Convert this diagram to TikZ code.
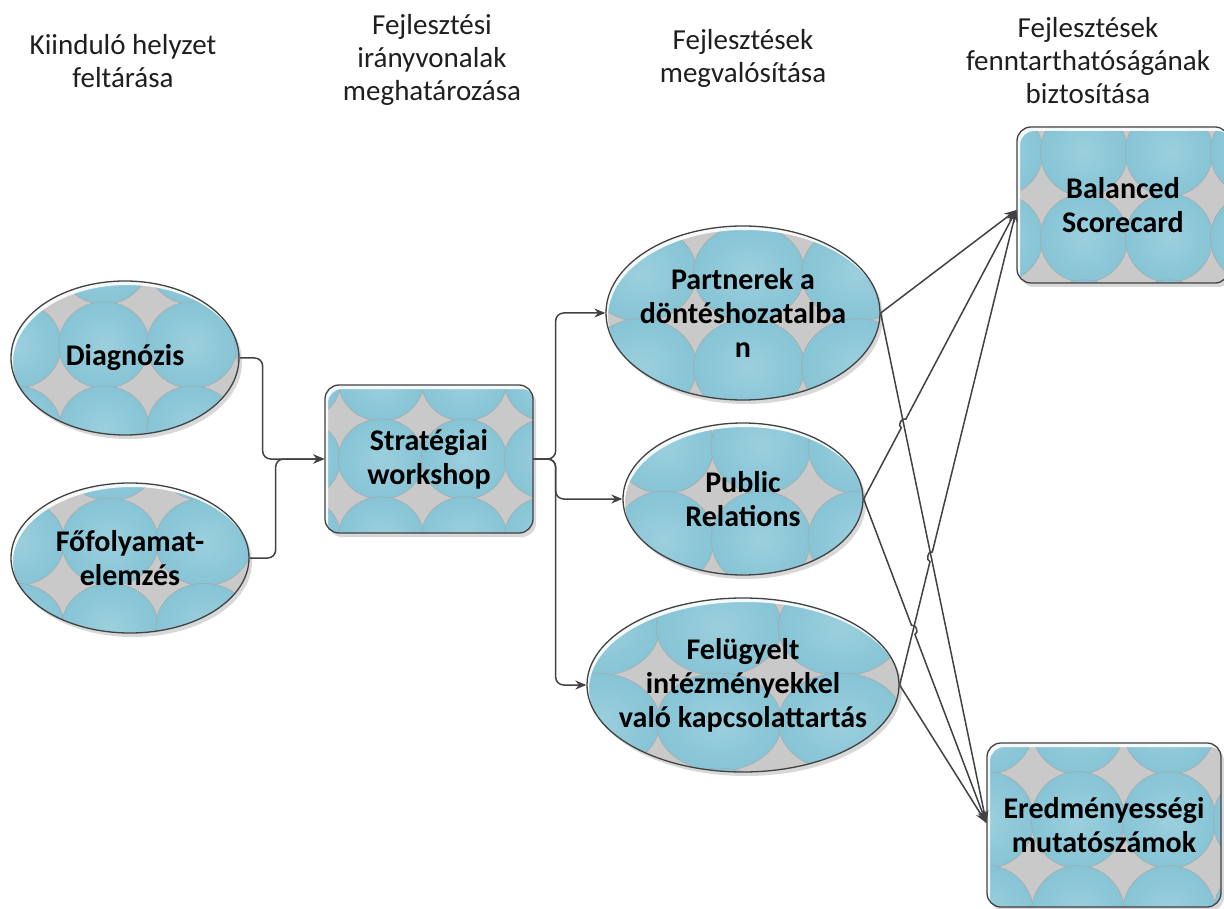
\documentclass[tikz,border=0pt]{standalone}
\usepackage{fontspec}
\setmainfont{Carlito}
\usetikzlibrary{shapes.geometric,shadows,arrows.meta,calc,intersections}
\definecolor{patblue}{RGB}{134,196,213}
\definecolor{patlight}{RGB}{156,207,221}
\definecolor{patgray}{RGB}{201,201,201}
\definecolor{patline}{RGB}{168,168,168}
\definecolor{edgec}{RGB}{66,66,66}
\newcommand\patfill[4]{%
 \fill[patgray] (path picture bounding box.south west) rectangle (path picture bounding box.north east);
 \foreach \i in {-3,...,3}{\foreach \j in {-3,...,3}{%
   \shadedraw[inner color=patlight,outer color=patblue,draw=patline,line width=0.5pt]
     ([shift={({\i*#3+(#1)},{\j*#4+(#2)})}]path picture bounding box.center)
     ellipse [x radius={0.515*#3*1pt}, y radius={0.515*#4*1pt}];
 }}}
\newcommand\glintE[2]{%
 \fill[white,opacity=0.9,even odd rule]
   ([shift={(-10,10)}]path picture bounding box.south west) rectangle ([shift={(10,-10)}]path picture bounding box.north east)
   ([shift={(2,4)}]path picture bounding box.center) ellipse [x radius={#1*1pt}, y radius={#2*1pt}];}
\newcommand\glintR{%
 \fill[white,opacity=0.9,even odd rule]
   ([shift={(-10,10)}]path picture bounding box.south west) rectangle ([shift={(10,-10)}]path picture bounding box.north east)
   [rounded corners=14pt] ([shift={(3,4)}]path picture bounding box.south west) rectangle ([shift={(3,4)}]path picture bounding box.north east);}
\begin{document}
\begin{tikzpicture}[x=1pt,y=-1pt,
 base/.style={draw=edgec, line width=1.3pt, align=center,
   font=\bfseries\fontsize{30}{34}\selectfont,
   drop shadow={shadow xshift=3pt, shadow yshift=-4pt, opacity=0.3}},
 ell/.style={base, ellipse, inner sep=-40pt},
 box/.style={base, rectangle, rounded corners=14pt, inner sep=0pt},
 hdr/.style={font=\fontsize{29}{33}\selectfont, align=center, text=black!88},
 conn/.style={draw=edgec, line width=1.5pt, rounded corners=8pt, -{Stealth[length=11pt,width=9pt]}},
 diag/.style={draw=edgec, line width=1.5pt, -{Stealth[length=12pt,width=9pt]}},
 hop/.style={bend left=90, looseness=1.2}
]
\useasboundingbox[fill=white] (0,0) rectangle (1224,909);

% headers
\node[hdr] (h1) at (123,61) {Kiinduló helyzet\\feltárása};
\node[hdr] (h2) at (432,60) {Fejlesztési\\irányvonalak\\meghatározása};
\node[hdr] (h3) at (743,58) {Fejlesztések\\megvalósítása};
\node[hdr] (h4) at (1088,61) {Fejlesztések\\fenntarthatóságának\\biztosítása};

% nodes
\node[ell, minimum width=228pt, minimum height=154pt, path picture={\patfill{-21}{-13}{88}{84}\glintE{114}{77}}] (dg) at (125,358) {Diagnózis};
\node[ell, minimum width=238pt, minimum height=150pt, path picture={\patfill{-20}{-16}{94}{85}\glintE{119}{75}}] (ff) at (130,558) {Főfolyamat-\\elemzés};
\node[box, minimum width=208pt, minimum height=148pt, path picture={\patfill{-48}{0}{83}{78}\glintR}] (ws) at (429,459) {Stratégiai\\workshop};
\node[ell, minimum width=274pt, minimum height=174pt, path picture={\patfill{6}{-40}{108}{94}\glintE{137}{87}}] (pd) at (743,313) {Partnerek a\\döntéshozatalba\\n};
\node[ell, minimum width=240pt, minimum height=152pt, path picture={\patfill{18}{-53}{97}{93}\glintE{120}{76}}] (pr) at (743,499) {Public\\Relations};
\node[ell, minimum width=312pt, minimum height=174pt, path picture={\patfill{-24}{-58}{122}{95}\glintE{156}{87}}] (fi) at (743,685) {Felügyelt\\intézményekkel\\való kapcsolattartás};
\node[box, minimum width=212pt, minimum height=156pt, path picture={\patfill{-39}{-53}{85}{86}\glintR}] (bs) at (1123,205) {Balanced\\Scorecard};
\node[box, minimum width=234pt, minimum height=164pt, path picture={\patfill{-26}{-5}{91}{94}\glintR}] (em) at (1104,825) {Eredményességi\\mutatószámok};

\coordinate (bsin) at ([yshift=-5pt]bs.west);
\coordinate (emin) at ([yshift=2pt]em.west);

% connectors
\draw[conn] (dg.east) -- ++(23,0) |- (ws.west);
\draw[conn] (ff.east) -- ++(26,0) |- (ws.west);
\draw[conn] (ws.east) -- ++(22,0) |- (pd.west);
\draw[conn] (ws.east) -- ++(22,0) |- (pr.west);
\draw[conn] (ws.east) -- ++(22,0) |- (fi.west);

% crossing points of the diagonal connectors
\path[name path=l1] (pd.east) -- (emin);
\path[name path=l2] (pr.east) -- (bsin);
\path[name path=l3] (fi.east) -- (bsin);
\path[name path=l4] (pr.east) -- (emin);
\path[name intersections={of=l1 and l2, by=x12}];
\path[name intersections={of=l1 and l3, by=x13}];
\path[name intersections={of=l3 and l4, by=x34}];

\draw[diag] (pd.east) -- (bsin);
\draw[diag] (pd.east) -- (emin);
\draw[diag] (pr.east) -- ($(x12)!5pt!(pr.east)$) to[hop] ($(x12)!5pt!(bsin)$) -- (bsin);
\draw[diag] (pr.east) -- ($(x34)!5pt!(pr.east)$) to[hop] ($(x34)!5pt!(emin)$) -- (emin);
\draw[diag] (fi.east) -- ($(x13)!5pt!(fi.east)$) to[hop] ($(x13)!5pt!(bsin)$) -- (bsin);
\draw[diag] (fi.east) -- (emin);
\end{tikzpicture}
\end{document}
